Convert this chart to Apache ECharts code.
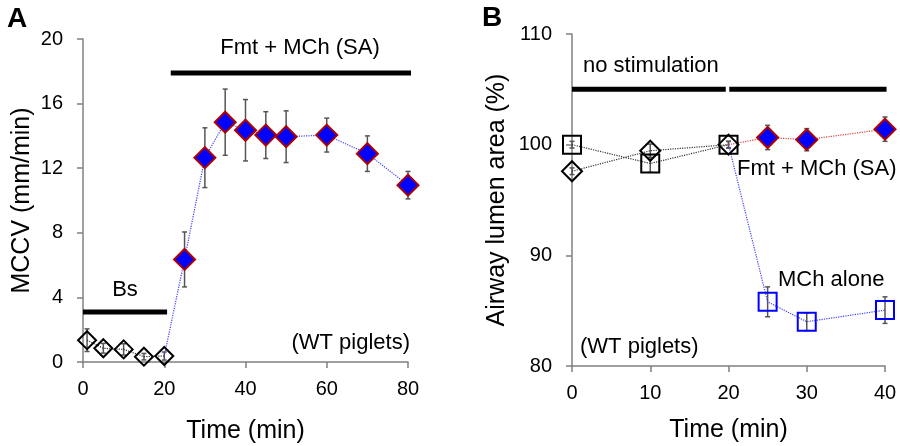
<!DOCTYPE html>
<html>
<head>
<meta charset="utf-8">
<script src="https://cdn.jsdelivr.net/npm/echarts@6/dist/echarts.min.js"></script>
<style>
  html, body { margin: 0; padding: 0; background: #fff; }
  #chart { width: 900px; height: 446px; }
</style>
</head>
<body>
<div id="chart"></div>
<script>
// ---- Panel A: MCCV over time ----
const timeA_open = [1, 5, 10, 15, 20]
const mccvOpen = [1.35, 0.85, 0.78, 0.33, 0.37]
const mccvOpenErr = [0.7, 0.3, 0.35, 0.2, 0.25]
const timeA_fill = [25, 30, 35, 40, 45, 50, 60, 70, 80]
const mccvFill = [6.35, 12.65, 14.85, 14.35, 14.05, 13.95, 14.05, 12.9, 10.95]
const mccvFillErr = [1.7, 1.85, 2.05, 1.9, 1.45, 1.6, 1.05, 1.1, 0.85]
const ticksA_x = [0, 20, 40, 60, 80]
const ticksA_y = [0, 4, 8, 12, 16, 20]
// treatment bars: [start, end, level]
const barsA = [[0, 20.7, 3.1], [21.6, 81.3, 17.9]]

// ---- Panel B: airway lumen area ----
const timeB_pre = [0, 10, 20]
const squarePre = [100, 98.3, 100]
const squarePreErr = [0.3, 0.8, 0.3]
const diamondPre = [97.6, 99.45, 100]
const diamondPreErr = [0.3, 0.6, 0.3]
const timeB_post = [25, 30, 40]
const squarePost = [85.8, 84.0, 85.05]
const squarePostErr = [1.35, 0.8, 1.2]
const diamondPost = [100.65, 100.45, 101.4]
const diamondPostErr = [1.1, 1.0, 1.1]
const ticksB_x = [0, 10, 20, 30, 40]
const ticksB_y = [80, 90, 100, 110]
const barsB = [[0, 19.65, 105], [20.1, 40.2, 105]]

const FONT = 'Liberation Sans, Arial, sans-serif'
const zip = (xs, ys) => xs.map((x, i) => [x, ys[i]])

function errSeries(ai, xs, ys, es) {
  return {
    type: 'custom',
    xAxisIndex: ai,
    yAxisIndex: ai,
    clip: false,
    silent: true,
    z: 2,
    data: xs.map((x, i) => [x, ys[i] - es[i], ys[i] + es[i]]),
    encode: { x: 0, y: [1, 2] },
    renderItem: (params, api) => {
      const lo = api.coord([api.value(0), api.value(1)])
      const hi = api.coord([api.value(0), api.value(2)])
      const w = 2.5
      const st = { stroke: '#555', lineWidth: 1.5 }
      return {
        type: 'group',
        children: [
          { type: 'line', shape: { x1: lo[0], y1: lo[1], x2: hi[0], y2: hi[1] }, style: st },
          { type: 'line', shape: { x1: lo[0] - w, y1: lo[1], x2: lo[0] + w, y2: lo[1] }, style: st },
          { type: 'line', shape: { x1: hi[0] - w, y1: hi[1], x2: hi[0] + w, y2: hi[1] }, style: st },
        ],
      }
    },
  }
}

function lineSeries(ai, data, color) {
  return {
    type: 'line', xAxisIndex: ai, yAxisIndex: ai, data, clip: false, silent: true,
    symbol: 'none', z: 3,
    lineStyle: { color, width: 1.2, type: 'dotted' },
  }
}

function markers(ai, data, symbol, size, fill, border) {
  return {
    type: 'scatter', xAxisIndex: ai, yAxisIndex: ai, data, clip: false, silent: true,
    symbol, symbolSize: size, z: 4,
    itemStyle: { color: fill, borderColor: border, borderWidth: 2, opacity: 1 },
  }
}

function barLine(ai, b) {
  return {
    type: 'line', xAxisIndex: ai, yAxisIndex: ai, clip: false, silent: true,
    data: [[b[0], b[2]], [b[1], b[2]]], symbol: 'none', z: 5,
    lineStyle: { color: '#000', width: 5 },
  }
}

function xAxis(gi, ticks, gap) {
  return {
    type: 'value', gridIndex: gi,
    min: ticks[0], max: ticks[ticks.length - 1], interval: ticks[1] - ticks[0],
    name: 'Time (min)', nameLocation: 'middle', nameGap: gap,
    nameTextStyle: { fontSize: 25, color: '#000', fontFamily: FONT },
    axisLine: { lineStyle: { color: '#808080', width: 1.5 } },
    axisTick: { length: 6, lineStyle: { color: '#808080', width: 1.5 } },
    axisLabel: { fontSize: 20, color: '#000', margin: 17, fontFamily: FONT },
    splitLine: { show: false },
  }
}

function yAxis(gi, ticks, name, gap) {
  return {
    type: 'value', gridIndex: gi,
    min: ticks[0], max: ticks[ticks.length - 1], interval: ticks[1] - ticks[0],
    name, nameLocation: 'middle', nameGap: gap, nameRotate: 90,
    nameTextStyle: { fontSize: 25, color: '#000', fontFamily: FONT },
    axisLine: { show: true, lineStyle: { color: '#808080', width: 1.5 } },
    axisTick: { show: true, length: 6, lineStyle: { color: '#808080', width: 1.5 } },
    axisLabel: { fontSize: 20, color: '#000', margin: 20, fontFamily: FONT },
    splitLine: { show: false },
  }
}

function txt(x, y, text, align, size, bold) {
  return {
    type: 'text', x, y, silent: true,
    style: {
      text, fill: '#000', fontSize: size || 22, fontFamily: FONT,
      fontWeight: bold ? 'bold' : 'normal',
      align: align || 'left', verticalAlign: 'middle',
    },
  }
}

const chart = echarts.init(document.getElementById('chart'), null, { renderer: 'canvas' })

const option = {
  animation: false,
  backgroundColor: '#fff',
  textStyle: { fontFamily: FONT },
  grid: [
    { left: 83, right: 492, top: 39, bottom: 84, outerBoundsMode: 'none', containLabel: false },
    { left: 572, right: 15, top: 34, bottom: 80, outerBoundsMode: 'none', containLabel: false },
  ],
  xAxis: [xAxis(0, ticksA_x, 57), xAxis(1, ticksB_x, 52)],
  yAxis: [
    yAxis(0, ticksA_y, 'MCCV (mm/min)', 48),
    yAxis(1, ticksB_y, 'Airway lumen area (%)', 62),
  ],
  series: [
    // panel A
    ...barsA.map(b => barLine(0, b)),
    errSeries(0, timeA_open, mccvOpen, mccvOpenErr),
    errSeries(0, timeA_fill, mccvFill, mccvFillErr),
    lineSeries(0, zip(timeA_open, mccvOpen), '#333'),
    lineSeries(0, [[timeA_open[4], mccvOpen[4]], ...zip(timeA_fill, mccvFill)], '#4040ff'),
    markers(0, zip(timeA_open, mccvOpen), 'diamond', 18, 'rgba(0,0,0,0)', '#000'),
    markers(0, zip(timeA_fill, mccvFill), 'diamond', 21, '#0000ff', '#b00000'),
    // panel B
    ...barsB.map(b => barLine(1, b)),
    errSeries(1, timeB_pre, squarePre, squarePreErr),
    errSeries(1, timeB_pre, diamondPre, diamondPreErr),
    errSeries(1, timeB_post, squarePost, squarePostErr),
    errSeries(1, timeB_post, diamondPost, diamondPostErr),
    lineSeries(1, zip(timeB_pre, squarePre), '#333'),
    lineSeries(1, zip(timeB_pre, diamondPre), '#333'),
    lineSeries(1, [[20, 100], ...zip(timeB_post, squarePost)], '#4040ff'),
    lineSeries(1, [[20, 100], ...zip(timeB_post, diamondPost)], '#e04040'),
    markers(1, zip(timeB_pre, squarePre), 'rect', 18, 'rgba(0,0,0,0)', '#000'),
    markers(1, zip(timeB_pre, diamondPre), 'diamond', 20, 'rgba(0,0,0,0)', '#000'),
    markers(1, zip(timeB_post, squarePost), 'rect', 18, 'rgba(0,0,0,0)', '#0000ff'),
    markers(1, zip(timeB_post, diamondPost), 'diamond', 21, '#0000ff', '#b00000'),
  ],
  graphic: [
    txt(7, 19, 'A', 'left', 28, true),
    txt(300, 48, 'Fmt + MCh (SA)', 'center'),
    txt(125, 290, 'Bs', 'center'),
    txt(410, 343, '(WT piglets)', 'right'),
    txt(482, 18, 'B', 'left', 28, true),
    txt(583, 66, 'no stimulation', 'left'),
    txt(737, 169, 'Fmt + MCh (SA)', 'left'),
    txt(778, 280, 'MCh alone', 'left'),
    txt(580, 347, '(WT piglets)', 'left'),
  ],
}

chart.setOption(option)
</script>
</body>
</html>
